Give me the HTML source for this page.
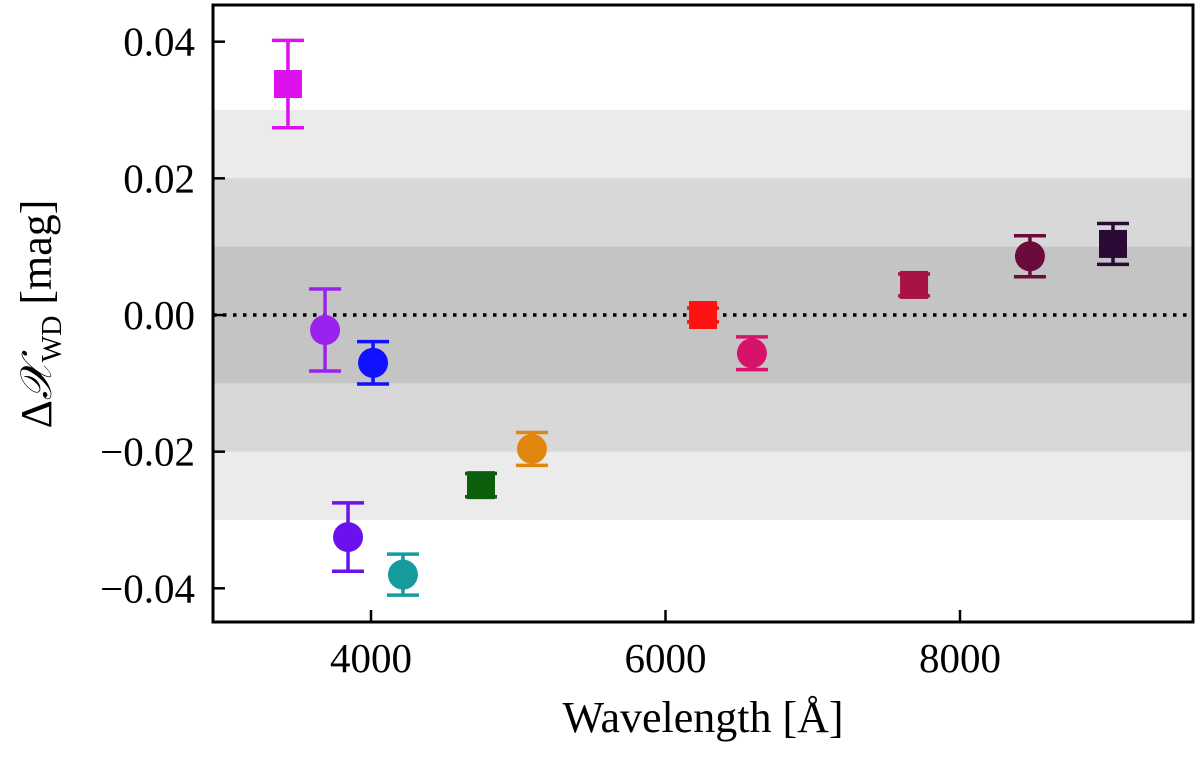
<!DOCTYPE html>
<html><head><meta charset="utf-8"><style>
html,body{margin:0;padding:0;background:#fff;}
svg{display:block;font-family:"Liberation Serif",serif;}
</style></head><body>
<svg id="chart" width="1200" height="760"></svg>
<script>
const wavelengths=[3436,3688,3844,4014,4217,4747,5093,6255,6587,7688,8475,9039];
const deltas=[0.0338,-0.0022,-0.0325,-0.0070,-0.0380,-0.0249,-0.0196,0.0000,-0.0056,0.0044,0.0086,0.0104];
const errors=[0.0064,0.0060,0.0050,0.0031,0.0030,0.0017,0.0024,0.0010,0.0024,0.0016,0.0030,0.0030];
const markers=["s","o","o","o","o","s","o","s","o","s","o","s"];
const colors=["#dd11ee","#9922ee","#6a11ee","#1111ff","#169c9c","#0b5e0b","#e0860e","#ff1111","#d6126a","#a81244","#6a0b3c","#2c0a38"];
const xTicks=[4000,6000,8000];
const yTicks=[0.04,0.02,0.00,-0.02,-0.04];
const yTickLabels=["0.04","0.02","0.00","\u22120.02","\u22120.04"];
const bands=[0.03,0.02,0.01];
const bandColors=["#ebebeb","#d8d8d8","#c4c4c4"];

const L=213,R=1193,T=5,B=622;
const xs=v=>371+(v-4000)*0.14725;
const ys=v=>315-v*6833;
const svg=document.getElementById('chart');
const NS="http://www.w3.org/2000/svg";
function mk(tag,attrs,parent){const e=document.createElementNS(NS,tag);for(const k in attrs)e.setAttribute(k,attrs[k]);(parent||svg).appendChild(e);return e;}

bands.forEach((b,i)=>{
  const r=mk('rect',{x:L,y:ys(b),width:R-L,height:ys(-b)-ys(b),fill:bandColors[i]});
  
  
});
const zl=mk('line',{x1:L,x2:R,y1:ys(0),y2:ys(0),stroke:'#000','stroke-width':3.5,'stroke-dasharray':'3.5,6.5'});



wavelengths.forEach((w,i)=>{
  const g=mk('g',{});
  
  
  const x=xs(w),y=ys(deltas[i]),y1=ys(deltas[i]+errors[i]),y2=ys(deltas[i]-errors[i]),c=colors[i];
  mk('line',{x1:x,x2:x,y1:y1,y2:y2,stroke:c,'stroke-width':3.5},g);
  mk('line',{x1:x-16,x2:x+16,y1:y1,y2:y1,stroke:c,'stroke-width':3.5},g);
  mk('line',{x1:x-16,x2:x+16,y1:y2,y2:y2,stroke:c,'stroke-width':3.5},g);
  if(markers[i]==='o')mk('circle',{cx:x,cy:y,r:15,fill:c},g);
  else mk('rect',{x:x-14,y:y-14,width:28,height:28,fill:c},g);
});

const ax=mk('rect',{x:L,y:T,width:R-L,height:B-T,fill:'none',stroke:'#000','stroke-width':3});



xTicks.forEach(v=>{
  const x=xs(v);
  mk('line',{x1:x,x2:x,y1:B,y2:B-12,stroke:'#000','stroke-width':2.5});
  const t=mk('text',{x:x,y:B+50,'text-anchor':'middle','font-size':41});
  t.textContent=v;
  
  
});
yTicks.forEach((v,i)=>{
  const y=ys(v);
  mk('line',{x1:L,x2:L+12,y1:y,y2:y,stroke:'#000','stroke-width':2.5});
  const t=mk('text',{x:L-18,y:y+14,'text-anchor':'end','font-size':41});
  t.textContent=yTickLabels[i];
  
  
});
</script>
<div style="position:absolute;left:213px;top:692px;width:980px;text-align:center;font:44px 'Liberation Serif',serif;">Wavelength [Å]</div>
<div style="position:absolute;left:40px;top:314px;transform:translate(-50%,-50%) rotate(-90deg);font:44px 'Liberation Serif',serif;white-space:nowrap;">Δ<i>𝒳</i><sub style="font-size:28px">WD</sub> [mag]</div>
</body></html>
